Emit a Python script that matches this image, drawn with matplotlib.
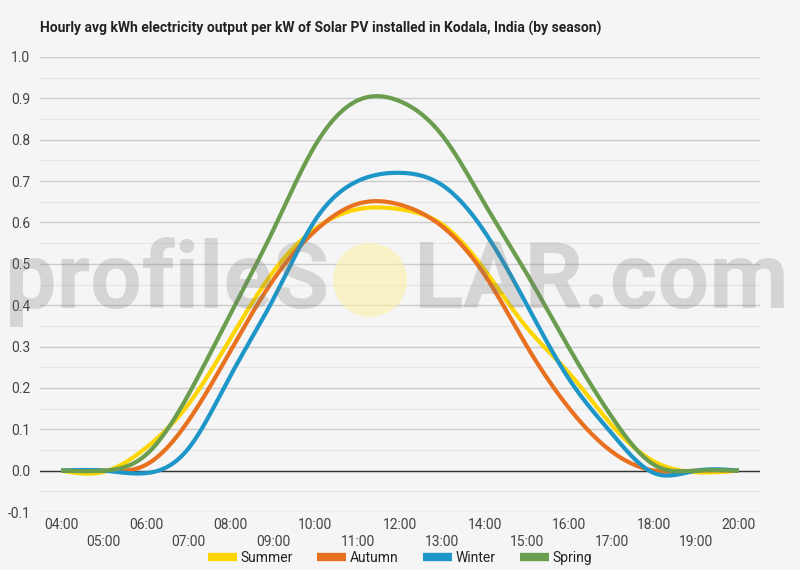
import numpy as np
import matplotlib
matplotlib.use("Agg")
import matplotlib.pyplot as plt
from matplotlib.patches import Circle
from matplotlib.lines import Line2D

hours = ["04:00", "05:00", "06:00", "07:00", "08:00", "09:00", "10:00", "11:00",
         "12:00", "13:00", "14:00", "15:00", "16:00", "17:00", "18:00", "19:00", "20:00"]
summer = [0.0, -0.003, 0.055, 0.16, 0.32, 0.48, 0.585, 0.632, 0.632, 0.595, 0.485, 0.345, 0.235, 0.11, 0.022, -0.004, 0.0]
autumn = [0.0, 0.0, 0.014, 0.12, 0.29, 0.46, 0.58, 0.645, 0.643, 0.59, 0.473, 0.30, 0.15, 0.046, 0.0, 0.0, 0.0]
winter = [0.0, 0.0, -0.006, 0.053, 0.23, 0.413, 0.606, 0.70, 0.72, 0.69, 0.577, 0.40, 0.22, 0.09, -0.006, 0.0, 0.0]
spring = [0.0, 0.0, 0.038, 0.183, 0.38, 0.58, 0.787, 0.895, 0.893, 0.81, 0.645, 0.475, 0.295, 0.13, 0.014, 0.0, 0.0]
series_names = ["Summer", "Autumn", "Winter", "Spring"]
series_vals = [summer, autumn, winter, spring]
colors = ["#fdd600", "#e8711f", "#1e96c8", "#6a9d4e"]
yticks = [-0.1, 0.0, 0.1, 0.2, 0.3, 0.4, 0.5, 0.6, 0.7, 0.8, 0.9, 1.0]
title = "Hourly avg kWh electricity output per kW of Solar PV installed in Kodala, India (by season)"

bg = "#f5f5f5"
W, H = 800, 570


def natural_spline(y, n=40):
    """Natural cubic spline through equally spaced points (unit spacing)."""
    y = np.asarray(y, float)
    m = len(y)
    A = np.zeros((m, m))
    r = np.zeros(m)
    A[0, 0] = 1
    A[-1, -1] = 1
    for i in range(1, m - 1):
        A[i, i - 1] = 1
        A[i, i] = 4
        A[i, i + 1] = 1
        r[i] = 6 * (y[i + 1] - 2 * y[i] + y[i - 1])
    M = np.linalg.solve(A, r)
    xs, ys = [], []
    for i in range(m - 1):
        t = np.linspace(0, 1, n, endpoint=False)
        a = 1 - t
        v = (M[i] * a ** 3 + M[i + 1] * t ** 3) / 6 + (y[i] - M[i] / 6) * a + (y[i + 1] - M[i + 1] / 6) * t
        xs.append(i + t)
        ys.append(v)
    xs.append([m - 1])
    ys.append([y[-1]])
    return np.concatenate(xs), np.concatenate(ys)


fig = plt.figure(figsize=(W / 100, H / 100), dpi=100, facecolor=bg)
ax = fig.add_axes([40 / W, 1 - 512 / H, 720 / W, (512 - 57) / H])
ax.set_facecolor(bg)

x_idx = np.arange(len(hours))
for name, vals, c in zip(series_names, series_vals, colors):
    xs, ys = natural_spline(vals)
    ax.plot(xs, ys, color=c, lw=3.0, solid_capstyle="butt", zorder=3)

ax.set_xlim(-0.5, len(hours) - 0.5)
ax.set_ylim(-0.1, 1.0)
for s in ax.spines.values():
    s.set_visible(False)

ax.set_yticks(yticks)
ax.set_yticklabels([f"{v:.1f}" for v in yticks])
ax.set_yticks(np.arange(-0.05, 1.0, 0.1), minor=True)
ax.grid(axis="y", which="major", color="#cccccc", lw=1.0, zorder=0)
ax.grid(axis="y", which="minor", color="#e6e6e6", lw=1.0, zorder=0)
ax.axhline(0, color="#333333", lw=1.0, zorder=2)
ax.tick_params(axis="y", which="both", length=0, pad=7, labelsize=10, labelcolor="#444444")
for lab in ax.get_yticklabels():
    lab.set_family("Roboto")

ax.set_xticks(x_idx)
ax.set_xticklabels([h if i % 2 == 0 else "\n" + h for i, h in enumerate(hours)])
ax.tick_params(axis="x", length=0, pad=4, labelsize=10, labelcolor="#444444")
for lab in ax.get_xticklabels():
    lab.set_family("Roboto")
    lab.set_linespacing(1.3)

fig.text(40 / W, 1 - 28 / H, title, fontsize=10, fontweight="bold", family="Roboto",
         color="#222222", va="center", ha="left")

# watermark
wm_color = "#777777"
fig.text(5 / W, 1 - 308 / H, "profileS", fontsize=66, fontweight="bold", family="Roboto",
         color=wm_color, alpha=0.25, ha="left", va="baseline", zorder=10)
fig.text(413 / W, 1 - 308 / H, "LAR.com", fontsize=66, fontweight="bold", family="Roboto",
         color=wm_color, alpha=0.25, ha="left", va="baseline", zorder=10)
circ = Circle((370, H - 280), 37, transform=None, facecolor="#fbf0a8", alpha=0.6,
              edgecolor="none", zorder=10)
fig.patches.append(circ)

handles = [Line2D([], [], color=c, lw=6, solid_capstyle="butt") for c in colors]
leg = fig.legend(handles, series_names, loc="center", bbox_to_anchor=(0.5, 1 - 558 / H),
                 ncol=4, frameon=False, handlelength=2.1, handletextpad=0.3,
                 columnspacing=1.7, prop={"family": "Roboto", "size": 10})
for t in leg.get_texts():
    t.set_color("#222222")

fig.savefig("out.png", dpi=100, facecolor=bg)
